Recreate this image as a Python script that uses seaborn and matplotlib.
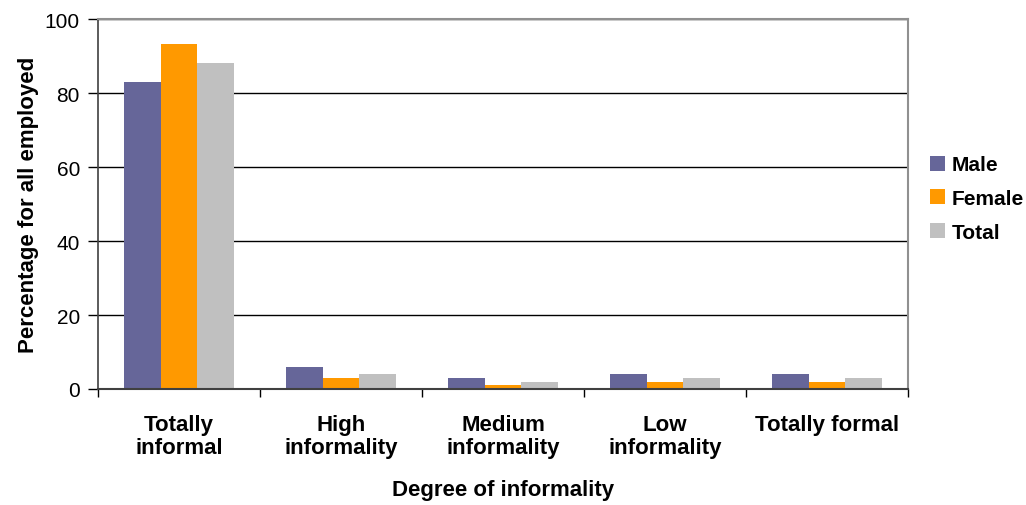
import matplotlib
matplotlib.use("Agg")
import matplotlib.pyplot as plt
import seaborn as sns
import pandas as pd
import numpy as np

categories = ["Totally\ninformal", "High\ninformality", "Medium\ninformality",
              "Low\ninformality", "Totally formal"]
male = [83, 6, 3, 4, 4]
female = [93.2, 3, 1, 2, 2]
total = [88, 4, 2, 3, 3]
series = ["Male", "Female", "Total"]
colors = ["#666699", "#FF9900", "#C0C0C0"]
yticks = [0, 20, 40, 60, 80, 100]

df = pd.DataFrame({
    "category": categories * 3,
    "value": male + female + total,
    "series": [s for s in series for _ in categories],
})

sns.set_style("white")
plt.rcParams["font.family"] = ["Liberation Sans", "DejaVu Sans"]
plt.rcParams["text.color"] = "black"
plt.rcParams["axes.labelcolor"] = "black"
plt.rcParams["xtick.color"] = "black"
plt.rcParams["ytick.color"] = "black"

fig = plt.figure(figsize=(10.26, 5.06), dpi=100)
ax = fig.add_axes([98 / 1026, 1 - 390 / 506, 810 / 1026, 370 / 506])

sns.barplot(data=df, x="category", y="value", hue="series", palette=colors,
            order=categories, hue_order=series, width=0.68, gap=0,
            saturation=1, ax=ax, edgecolor="none")

ax.set_ylim(0, 100)
ax.set_xlim(-0.5, len(categories) - 0.5)
ax.set_yticks(yticks)
ax.yaxis.grid(True, color="black", linewidth=1)
ax.set_axisbelow(True)

for side in ["top", "right"]:
    ax.spines[side].set_color("#909090")
    ax.spines[side].set_linewidth(1.5)
ax.spines["left"].set_color("#404040")
ax.spines["left"].set_linewidth(1.2)
ax.spines["bottom"].set_color("#404040")
ax.spines["bottom"].set_linewidth(1.5)

ax.set_xticks(range(len(categories)))
ax.set_xticklabels(categories, fontsize=16, fontweight="bold", linespacing=1.15)
ax.set_xticks(np.arange(-0.5, len(categories), 1), minor=True)
ax.tick_params(axis="x", which="major", length=0, pad=18)
ax.tick_params(axis="x", which="minor", length=6, width=1, color="black",
               direction="out", bottom=True)
ax.tick_params(axis="y", length=7, width=1, color="black", direction="out",
               left=True, labelsize=15, pad=6)

ax.set_xlabel("Degree of informality", fontsize=16, fontweight="bold", labelpad=15)
ax.set_ylabel("Percentage for all employed", fontsize=16, fontweight="bold", labelpad=4)

leg = ax.legend(loc="center left", bbox_to_anchor=(1.017, 0.515), frameon=False,
                prop={"size": 15, "weight": "bold"}, handlelength=0.72,
                handleheight=0.72, handletextpad=0.3, labelspacing=0.7,
                borderaxespad=0, title=None)

fig.savefig("out.png", dpi=100)
